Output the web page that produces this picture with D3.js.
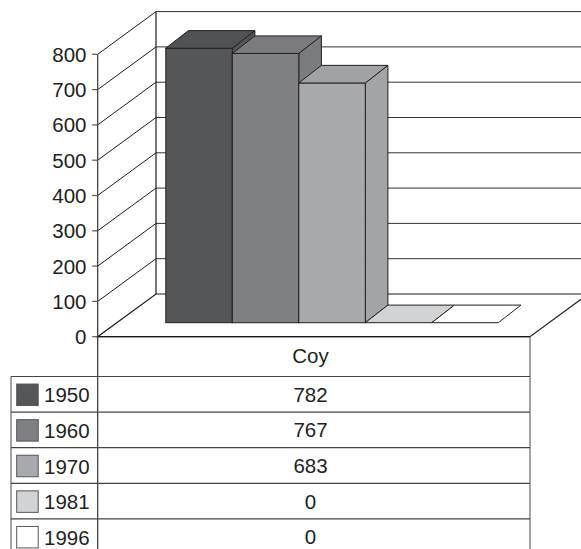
<!DOCTYPE html>
<html>
<head>
<meta charset="utf-8">
<script src="https://cdn.jsdelivr.net/npm/d3@7"></script>
<style>
  html, body { margin: 0; padding: 0; background: #fff; }
  svg { display: block; font-family: "Liberation Sans", Arial, sans-serif; }
</style>
</head>
<body>
<svg id="chart" width="581" height="549"></svg>
<script>
// Series (years) and their values for the single category
const category = "Coy";
const years = ["1950", "1960", "1970", "1981", "1996"];
const values = [782, 767, 683, 0, 0];
const fills = ["#555658", "#7f8083", "#a8a9ac", "#d2d3d5", "#ffffff"];
const yTicks = [0, 100, 200, 300, 400, 500, 600, 700, 800];

const W = 581, H = 549;
const svg = d3.select("#chart");
const ink = "#231f20";
const fontSize = 20.5;

// 3D frame geometry
const floorLeft = 97.7, floorRight = 530;
const wallDepth = [58.3, -42.7];     // front-to-back offset of the walls
const barShift = [18.2, -14];        // offset of the bar front faces from the floor front
const barDepth = [22.6, -17.6];      // depth of each bar

const yFront = d3.scaleLinear().domain([0, 800]).range([336.7, 54.3]);
const yBack = v => yFront(v) + wallDepth[1];
const yBar = d3.scaleLinear().domain([0, 800]).range([322.7, 41.9]);

const xCat = d3.scaleBand().domain([category]).range([floorLeft, floorRight])
  .paddingInner(0).paddingOuter(0.15);
const xSer = d3.scaleBand().domain(years)
  .range([xCat(category), xCat(category) + xCat.bandwidth()]);

const backLeft = floorLeft + wallDepth[0];
const g = svg.append("g");

// Floor
const floorPts = [
  [floorLeft, yFront(0)], [floorRight, yFront(0)],
  [floorRight + wallDepth[0], yBack(0)], [backLeft, yBack(0)]
];
g.append("polygon")
  .attr("points", floorPts.map(p => p.join(",")).join(" "))
  .attr("fill", "#fff").attr("stroke", "#1a1a1a").attr("stroke-width", 1.2);

// Back wall gridlines
g.selectAll("line.bgrid").data(yTicks.filter(t => t > 0)).join("line")
  .attr("class", "bgrid")
  .attr("x1", backLeft).attr("x2", W + 10)
  .attr("y1", d => yBack(d)).attr("y2", d => yBack(d))
  .attr("stroke", "#333").attr("stroke-width", 1);

// Left wall diagonal gridlines
g.selectAll("line.lgrid").data(yTicks.filter(t => t > 0)).join("line")
  .attr("class", "lgrid")
  .attr("x1", floorLeft).attr("y1", d => yFront(d))
  .attr("x2", backLeft).attr("y2", d => yBack(d))
  .attr("stroke", "#1a1a1a").attr("stroke-width", 1);

// Back wall left edge
g.append("line")
  .attr("x1", backLeft).attr("x2", backLeft)
  .attr("y1", yBack(800)).attr("y2", yBack(0))
  .attr("stroke", "#1a1a1a").attr("stroke-width", 1.2);

// Bars
const bars = years.map((y, i) => ({ year: y, value: values[i], fill: fills[i] }));
const barG = g.append("g");
bars.forEach(d => {
  const x0 = xSer(d.year) + barShift[0];
  const x1 = x0 + xSer.bandwidth();
  const yb = yBar(0), yt = yBar(d.value);
  const [dx, dy] = barDepth;
  const c = d3.color(d.fill);
  const stroke = "#231f20";
  if (d.value > 0) {
    barG.append("polygon")
      .attr("points", [[x1, yt], [x1 + dx, yt + dy], [x1 + dx, yb + dy], [x1, yb]].map(p => p.join(",")).join(" "))
      .attr("fill", c.darker(0.08)).attr("stroke", stroke).attr("stroke-width", 1);
    barG.append("rect")
      .attr("x", x0).attr("y", yt).attr("width", x1 - x0).attr("height", yb - yt)
      .attr("fill", d.fill).attr("stroke", stroke).attr("stroke-width", 1);
  }
  barG.append("polygon")
    .attr("points", [[x0, yt], [x1, yt], [x1 + dx, yt + dy], [x0 + dx, yt + dy]].map(p => p.join(",")).join(" "))
    .attr("fill", d.value > 0 ? c.darker(0.12) : d.fill).attr("stroke", stroke).attr("stroke-width", 1);
});

// Front axis line (continues down as the table divider)
g.append("line")
  .attr("x1", floorLeft).attr("x2", floorLeft)
  .attr("y1", yFront(800)).attr("y2", H)
  .attr("stroke", "#333").attr("stroke-width", 1.2);

// Y axis ticks and labels
const axis = g.append("g");
axis.selectAll("line").data(yTicks).join("line")
  .attr("x1", floorLeft - 5.5).attr("x2", floorLeft)
  .attr("y1", d => yFront(d)).attr("y2", d => yFront(d))
  .attr("stroke", "#555").attr("stroke-width", 1.2);
axis.selectAll("text").data(yTicks).join("text")
  .attr("x", 86.5).attr("y", d => yFront(d) + 7.5)
  .attr("text-anchor", "end").attr("font-size", fontSize).attr("fill", ink)
  .text(d => d);

// Data table
const tableTop = yFront(0), headerBottom = 376.5;
const rowY = d3.scaleBand().domain(years).range([headerBottom, 554.5]);
const tableLeft = 11;
const colMid = 310.5;
const lineC = "#444";
const t = g.append("g");

t.append("line").attr("x1", floorLeft).attr("x2", floorRight)
  .attr("y1", tableTop).attr("y2", tableTop).attr("stroke", "#1a1a1a").attr("stroke-width", 1.2);
t.append("line").attr("x1", floorRight).attr("x2", floorRight)
  .attr("y1", tableTop).attr("y2", H).attr("stroke", "#666").attr("stroke-width", 1.2);
t.append("line").attr("x1", tableLeft).attr("x2", tableLeft)
  .attr("y1", headerBottom).attr("y2", H).attr("stroke", "#666").attr("stroke-width", 1.2);
t.selectAll("line.row").data(years).join("line")
  .attr("class", "row")
  .attr("x1", tableLeft).attr("x2", floorRight)
  .attr("y1", d => rowY(d)).attr("y2", d => rowY(d))
  .attr("stroke", lineC).attr("stroke-width", 1.2);

t.append("text").attr("x", colMid).attr("y", (tableTop + headerBottom) / 2 + 6.5)
  .attr("text-anchor", "middle").attr("font-size", fontSize).attr("fill", ink).text(category);

const keySize = 21.5;
t.selectAll("rect.key").data(bars).join("rect")
  .attr("class", "key")
  .attr("x", 16.7).attr("y", d => rowY(d.year) + rowY.bandwidth() / 2 - keySize / 2 + 0.5)
  .attr("width", keySize).attr("height", keySize)
  .attr("fill", d => d.fill).attr("stroke", "#555").attr("stroke-width", 1);
t.selectAll("text.lab").data(bars).join("text")
  .attr("class", "lab")
  .attr("x", 44).attr("y", d => rowY(d.year) + rowY.bandwidth() / 2 + 8)
  .attr("font-size", fontSize).attr("fill", ink).text(d => d.year);
t.selectAll("text.val").data(bars).join("text")
  .attr("class", "val")
  .attr("x", colMid).attr("y", d => rowY(d.year) + rowY.bandwidth() / 2 + 7.5)
  .attr("text-anchor", "middle").attr("font-size", fontSize).attr("fill", ink).text(d => d.value);
</script>
</body>
</html>
